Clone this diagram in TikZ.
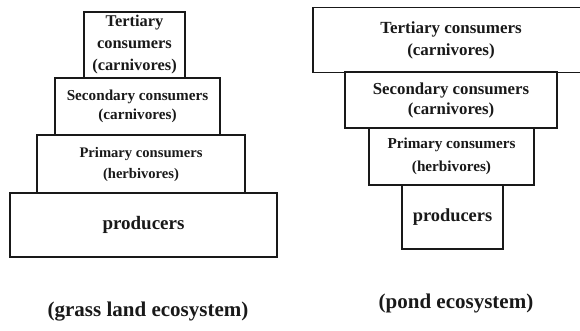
\documentclass[tikz,border=0pt]{standalone}
\usepackage{fontspec}
\setmainfont{Liberation Serif}
\usepackage{tikz}
\usetikzlibrary{positioning}
\usepackage{xcolor}
\definecolor{inkclr}{RGB}{25, 25, 25}
\newcommand{\fs}[2]{\fontsize{#1}{#2}\selectfont}
\tikzset{
  % Piramida qavatlari
  tier/.style    = {draw=inkclr, line width=1.2pt, inner sep=0pt, align=center,
                    text=inkclr},
  % Pastdagi sarlavhalar
  ecolab/.style  = {inner sep=0pt, text=inkclr, font=\bfseries\fs{21}{24}},
}

\begin{document}
\begin{tikzpicture}[x=1pt, y=-1pt]
  \useasboundingbox (0,0) rectangle (580,330);
  % Chap: o'tloq ekotizimi
  \node[tier, font=\bfseries\fs{19}{22}, minimum width=267pt, minimum height=64pt]
    (gprod) at (143.5,225) {producers};
  \node[tier, font=\bfseries\fs{14.6}{21}, minimum width=208pt, minimum height=58pt]
    (gprim) at (141,164) {Primary consumers\\ (herbivores)};
  \node[tier, font=\bfseries\fs{15.2}{19}, minimum width=165pt, minimum height=57pt]
    (gsec) at (137.5,106.5) {Secondary consumers\\ (carnivores)};
  \node[tier, font=\bfseries\fs{16.4}{22}, minimum width=101pt, minimum height=66pt]
    (gter) at (134.5,45) {Tertiary\\ consumers\\ (carnivores)};
  \node[ecolab] (glab) at (148,312) {(grass land ecosystem)};
  % O'ng: hovuz ekotizimi
  \node[tier, font=\bfseries\fs{18.4}{22}, minimum width=101pt, minimum height=64pt]
    (pprod) at (452.5,217) {producers};
  \node[tier, font=\bfseries\fs{15.2}{23}, minimum width=165pt, minimum height=57pt]
    (pprim) at (451.5,156.5) {Primary consumers\\ (herbivores)};
  \node[tier, font=\bfseries\fs{16.8}{20}, minimum width=212pt, minimum height=56pt]
    (psec) at (451,100) {Secondary consumers\\ (carnivores)};
  \node[tier, font=\bfseries\fs{17}{22}, minimum width=276pt, minimum height=65pt]
    (pter) at (451,40) {Tertiary consumers\\ (carnivores)};
  \node[ecolab] (plab) at (456,303) {(pond ecosystem)};
\end{tikzpicture}
\end{document}
